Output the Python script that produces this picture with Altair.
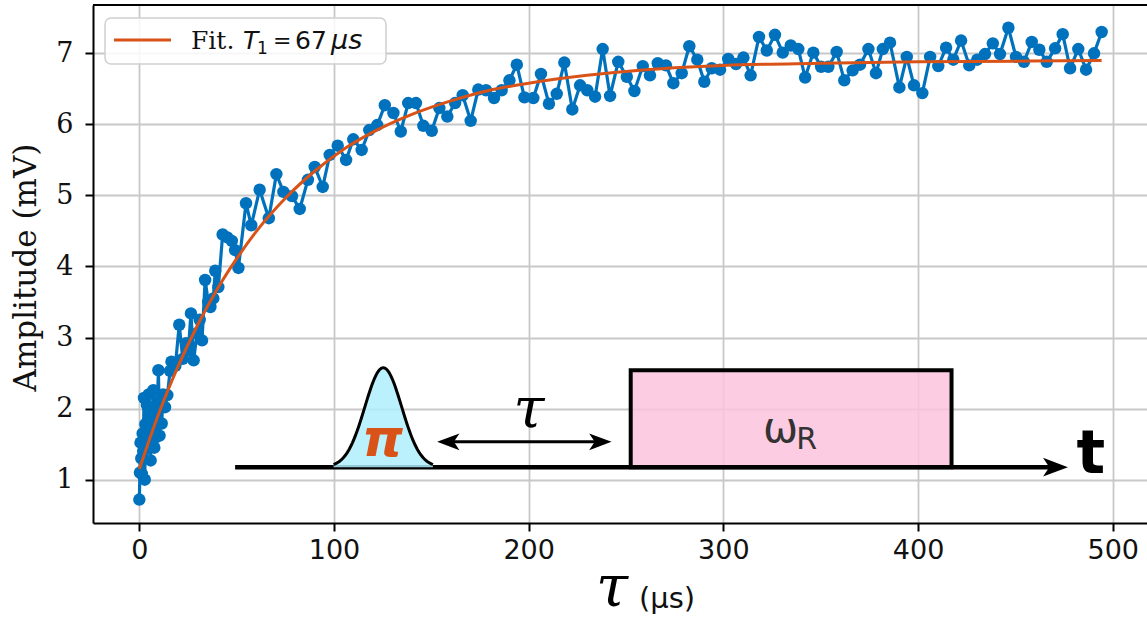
import altair as alt
import pandas as pd
import numpy as np

# ---------------- data ----------------
tau_us = [0.0, 0.3, 0.6, 1.0, 1.3, 1.7, 2.0, 2.4, 2.8, 3.1, 3.5, 3.9, 4.3, 4.8, 5.3, 5.8,
          6.3, 6.8, 7.2, 7.7, 8.2, 8.7, 9.3, 9.8, 10.4, 11.0, 11.5, 12.2, 13.2, 14.4, 15.8, 16.5,
          18.5, 20.5, 22.3, 24.0, 25.2, 26.5, 27.9, 29.6, 31.0, 32.2, 33.8, 35.4, 36.5, 38.0,
          39.0, 40.6, 42.8, 45.2, 47.5, 49.2, 50.9, 54.8, 57.5, 61.8, 66.5, 70.4, 74.0, 78.4,
          82.4, 86.6, 90.1, 94.2, 97.8, 101.9, 106.2, 109.9, 114.2, 118.1, 122.2, 126.1, 130.5,
          134.3, 138.1, 142.1, 145.9, 150.2, 154.1, 158.2, 162.2, 166.1, 170.2, 174.1, 178.1,
          182.2, 186.1, 190.1, 193.9, 197.8, 202.4, 206.3, 210.4, 214.4, 218.3, 222.4, 226.4,
          230.1, 234.1, 238.0, 241.8, 246.0, 250.4, 254.3, 258.6, 262.3, 266.3, 270.5, 274.3,
          278.6, 282.5, 286.6, 290.2, 294.0, 298.3, 302.5, 306.5, 310.3, 314.0, 318.3, 322.3,
          326.5, 330.5, 334.6, 338.5, 342.0, 346.2, 350.2, 353.9, 358.2, 362.1, 366.4, 370.2,
          374.5, 378.4, 381.9, 385.6, 390.4, 394.2, 397.9, 402.2, 406.2, 410.4, 414.4, 418.1,
          422.1, 426.3, 430.4, 434.4, 438.4, 442.1, 446.4, 450.3, 454.4, 458.4, 462.3, 466.1,
          470.4, 474.3, 478.1, 482.3, 486.3, 490.4, 494.3]
amp_mV = [0.72, 1.10, 1.52, 1.30, 1.08, 1.65, 1.40, 2.15, 1.00, 1.78, 1.55, 2.05, 1.72, 2.20, 1.85, 1.27,
          2.02, 1.62, 2.26, 1.45, 1.95, 1.60, 2.10, 2.54, 1.62, 2.05, 1.79, 2.20, 2.02, 2.19, 2.53, 2.66,
          2.60, 3.18, 2.70, 2.92, 2.82, 3.34, 2.68, 3.06, 3.25, 2.96, 3.81, 3.50, 3.43, 3.55,
          3.94, 3.71, 4.45, 4.41, 4.36, 4.23, 3.98, 4.89, 4.58, 5.08, 4.68, 5.30, 5.05, 4.99,
          4.81, 5.22, 5.40, 5.12, 5.57, 5.70, 5.50, 5.79, 5.64, 5.92, 5.99, 6.27, 6.16,
          5.90, 6.30, 6.30, 5.98, 5.91, 6.23, 6.11, 6.30, 6.41, 6.05, 6.49, 6.48,
          6.37, 6.48, 6.62, 6.84, 6.38, 6.37, 6.71, 6.29, 6.43, 6.87, 6.21, 6.55,
          6.48, 6.39, 7.06, 6.40, 6.88, 6.67, 6.47, 6.82, 6.69, 6.86, 6.83, 6.58,
          6.72, 7.10, 6.91, 6.60, 6.79, 6.77, 6.92, 6.85, 6.94, 6.69, 7.23, 7.04,
          7.26, 7.01, 7.11, 7.06, 6.66, 7.01, 6.81, 6.81, 7.02, 6.62, 6.76, 6.84,
          7.06, 6.72, 7.06, 7.15, 6.52, 6.95, 6.55, 6.44, 6.95, 6.82, 7.08, 6.91,
          7.18, 6.83, 6.91, 6.99, 7.14, 6.99, 7.36, 6.95, 6.88, 7.16, 7.05, 6.88,
          7.07, 7.27, 6.79, 7.06, 6.77, 7.00, 7.30]

# fitted curve
fit_tau = [0, 5, 10, 20, 30, 40, 50, 60, 75, 90, 105, 120, 140, 160, 180, 200, 230, 260, 300, 350, 400, 450, 494.3]
fit_amp = [1.15, 1.55, 1.93, 2.60, 3.18, 3.68, 4.11, 4.49, 4.96, 5.34, 5.65, 5.89, 6.14, 6.33, 6.48, 6.58,
           6.69, 6.77, 6.83, 6.86, 6.88, 6.89, 6.90]

x_ticks = [0, 100, 200, 300, 400, 500]
y_ticks = [1, 2, 3, 4, 5, 6, 7]

legend_label = ["Fit.", "T", "1", "=", "67", "μs"]

# pulse-sequence sketch (in data units)
seq_line = {"x": [49.2], "x2": [468.0], "y": [1.176]}
pulse_center, pulse_sigma, pulse_top, pulse_base = 125.3, 9.45, 2.575, 1.176
drive_box = {"x": [252.4], "x2": [417.2], "y": [1.176], "y2": [2.54]}
delay_arrow = {"x": [157.0], "x2": [239.0], "y": [1.532]}

BLUE = "#0072BD"
ORANGE = "#D95319"
W, H = 1054, 518

xs = alt.Scale(domain=[-23.8, 517.6], nice=False, zero=False)
ys = alt.Scale(domain=[0.39, 7.68], nice=False, zero=False)

x_axis = alt.Axis(values=x_ticks, format="d", grid=True, gridColor="#c8c8c8", gridWidth=1.8,
                  domainColor="black", domainWidth=2, tickColor="black", tickWidth=2, tickSize=8,
                  labelFont="DejaVu Sans", labelFontSize=27, labelColor="#111111", labelPadding=6,
                  title=None)
y_axis = alt.Axis(values=y_ticks, format="d", grid=True, gridColor="#c8c8c8", gridWidth=1.8,
                  domainColor="black", domainWidth=2, tickColor="black", tickWidth=2, tickSize=8,
                  labelFont="DejaVu Serif", labelFontSize=27, labelColor="#111111", labelPadding=12,
                  title="Amplitude (mV)", titleFont="DejaVu Serif", titleFontSize=31,
                  titleFontWeight="normal", titleColor="#111111", titleX=-67, titleY=262,
                  titleAngle=270, titleAlign="center", titleBaseline="middle")

df = pd.DataFrame({"tau": tau_us, "amp": amp_mV})
fit_df = pd.DataFrame({"tau": fit_tau, "amp": fit_amp})

base_line = alt.Chart(df).mark_line(color=BLUE, strokeWidth=3.2).encode(
    x=alt.X("tau:Q", scale=xs, axis=x_axis),
    y=alt.Y("amp:Q", scale=ys, axis=y_axis))
base_pts = alt.Chart(df).mark_circle(color=BLUE, size=155, opacity=1).encode(
    x=alt.X("tau:Q", scale=xs), y=alt.Y("amp:Q", scale=ys))
fit_line = alt.Chart(fit_df).mark_line(color=ORANGE, strokeWidth=3, interpolate="monotone").encode(
    x=alt.X("tau:Q", scale=xs), y=alt.Y("amp:Q", scale=ys))

# ---- pulse sequence drawing ----
t_p = np.linspace(pulse_center - 25.5, pulse_center + 25.5, 101)
pulse_df = pd.DataFrame({
    "tau": t_p,
    "amp": pulse_base + (pulse_top - pulse_base) * np.exp(-((t_p - pulse_center) ** 2) / (2 * pulse_sigma ** 2)),
    "base": pulse_base})
pulse_fill = alt.Chart(pulse_df).mark_area(color="#aeeefb", opacity=0.85).encode(
    x=alt.X("tau:Q", scale=xs), y=alt.Y("amp:Q", scale=ys), y2="base:Q")
pulse_edge = alt.Chart(pulse_df).mark_line(color="black", strokeWidth=3).encode(
    x=alt.X("tau:Q", scale=xs), y=alt.Y("amp:Q", scale=ys))

box = alt.Chart(pd.DataFrame(drive_box)).mark_rect(fill="#fcc3dd", fillOpacity=0.85,
                                                   stroke="black", strokeWidth=4).encode(
    x=alt.X("x:Q", scale=xs), x2="x2:Q", y=alt.Y("y:Q", scale=ys), y2="y2:Q")

seq = alt.Chart(pd.DataFrame(seq_line)).mark_rule(color="black", strokeWidth=4.5).encode(
    x=alt.X("x:Q", scale=xs), x2="x2:Q", y=alt.Y("y:Q", scale=ys))
darrow = alt.Chart(pd.DataFrame(delay_arrow)).mark_rule(color="black", strokeWidth=3).encode(
    x=alt.X("x:Q", scale=xs), x2="x2:Q", y=alt.Y("y:Q", scale=ys))

RIGHT_HEAD = "M-1,-0.75L1,0L-1,0.75L-0.5,0Z"
LEFT_HEAD = "M1,-0.75L-1,0L1,0.75L0.5,0Z"
heads_r = pd.DataFrame({"x": [470.6, 236.8], "y": [1.176, 1.532], "s": [620, 500]})
heads_l = pd.DataFrame({"x": [158.7], "y": [1.532], "s": [500]})
head_r = alt.Chart(heads_r).mark_point(shape=RIGHT_HEAD, filled=True, color="black", opacity=1,
                                       strokeWidth=0).encode(
    x=alt.X("x:Q", scale=xs), y=alt.Y("y:Q", scale=ys),
    size=alt.Size("s:Q", scale=None, legend=None))
head_l = alt.Chart(heads_l).mark_point(shape=LEFT_HEAD, filled=True, color="black", opacity=1,
                                       strokeWidth=0).encode(
    x=alt.X("x:Q", scale=xs), y=alt.Y("y:Q", scale=ys),
    size=alt.Size("s:Q", scale=None, legend=None))


def label(txt, x, y, **kw):
    return alt.Chart(pd.DataFrame({"x": [x], "y": [y], "t": [txt]})).mark_text(**kw).encode(
        x=alt.X("x:Q", scale=xs), y=alt.Y("y:Q", scale=ys), text="t:N")


pi_txt = label("π", 124.9, 1.56, font="DejaVu Sans", fontSize=52, fontWeight="bold",
               fontStyle="italic", color=ORANGE, baseline="middle", align="center")
tau_txt = label("τ", 200.2, 1.98, font="DejaVu Serif", fontSize=56, fontStyle="italic",
                color="black", baseline="middle", align="center")
om_txt = label("ω", 329.4, 1.71, font="DejaVu Sans", fontSize=42, color="#333333",
               baseline="middle", align="center")
r_txt = label("R", 342.8, 1.56, font="DejaVu Sans", fontSize=30, color="#333333",
              baseline="middle", align="center")
t_txt = label("t", 488.8, 1.09, font="DejaVu Sans", fontSize=60, fontWeight="bold",
              color="black", baseline="alphabetic", align="center")


# ---- pixel-placed decorations (legend, frame top, x title) ----
def ptext(txt, x, y, **kw):
    return alt.Chart(pd.DataFrame({"t": [txt]})).mark_text(**kw).encode(
        x=alt.value(x), y=alt.value(y), text="t:N")


one = pd.DataFrame({"a": [0]})
top_frame = alt.Chart(one).mark_rule(color="black", strokeWidth=2).encode(
    x=alt.value(0), x2=alt.value(W), y=alt.value(0))
leg_box = alt.Chart(one).mark_rect(fill="white", fillOpacity=0.85, stroke="#d0d0d0",
                                   strokeWidth=1.5, cornerRadius=6).encode(
    x=alt.value(12), x2=alt.value(293), y=alt.value(13), y2=alt.value(59))
leg_line = alt.Chart(one).mark_rule(color=ORANGE, strokeWidth=3).encode(
    x=alt.value(21), x2=alt.value(78), y=alt.value(35))
leg_t = [
    ptext(legend_label[0], 98, 44, font="DejaVu Serif", fontSize=25, align="left", baseline="alphabetic", color="#111"),
    ptext(legend_label[1], 150, 44, font="DejaVu Sans", fontSize=25, fontStyle="italic", align="left", baseline="alphabetic", color="#111"),
    ptext(legend_label[2], 164, 49, font="DejaVu Sans", fontSize=17, align="left", baseline="alphabetic", color="#111"),
    ptext(legend_label[3], 180, 43, font="DejaVu Sans", fontSize=22, align="left", baseline="alphabetic", color="#111"),
    ptext(legend_label[4], 202, 44, font="DejaVu Sans", fontSize=25, align="left", baseline="alphabetic", color="#111"),
    ptext(legend_label[5], 238, 44, font="DejaVu Sans", fontSize=27, fontStyle="italic", align="left", baseline="alphabetic", color="#111"),
]
xt_tau = ptext("τ", 519, 584, font="DejaVu Serif", fontSize=58, fontStyle="italic",
               align="center", baseline="middle", color="black")
xt_unit = ptext("(μs)", 546, 594, font="DejaVu Sans", fontSize=29, align="left",
                baseline="middle", color="#111")

chart = alt.layer(
    base_line, base_pts, fit_line,
    box, seq, pulse_fill, pulse_edge, darrow, head_r, head_l,
    pi_txt, tau_txt, om_txt, r_txt, t_txt,
    top_frame, leg_box, leg_line, *leg_t, xt_tau, xt_unit,
).properties(
    width=W, height=H,
    autosize=alt.AutoSizeParams(type="none"),
    padding={"left": 93, "top": 5, "right": 0, "bottom": 96},
).configure_view(stroke=None)

chart.save("out.html", embed_options={"renderer": "svg", "actions": False})
